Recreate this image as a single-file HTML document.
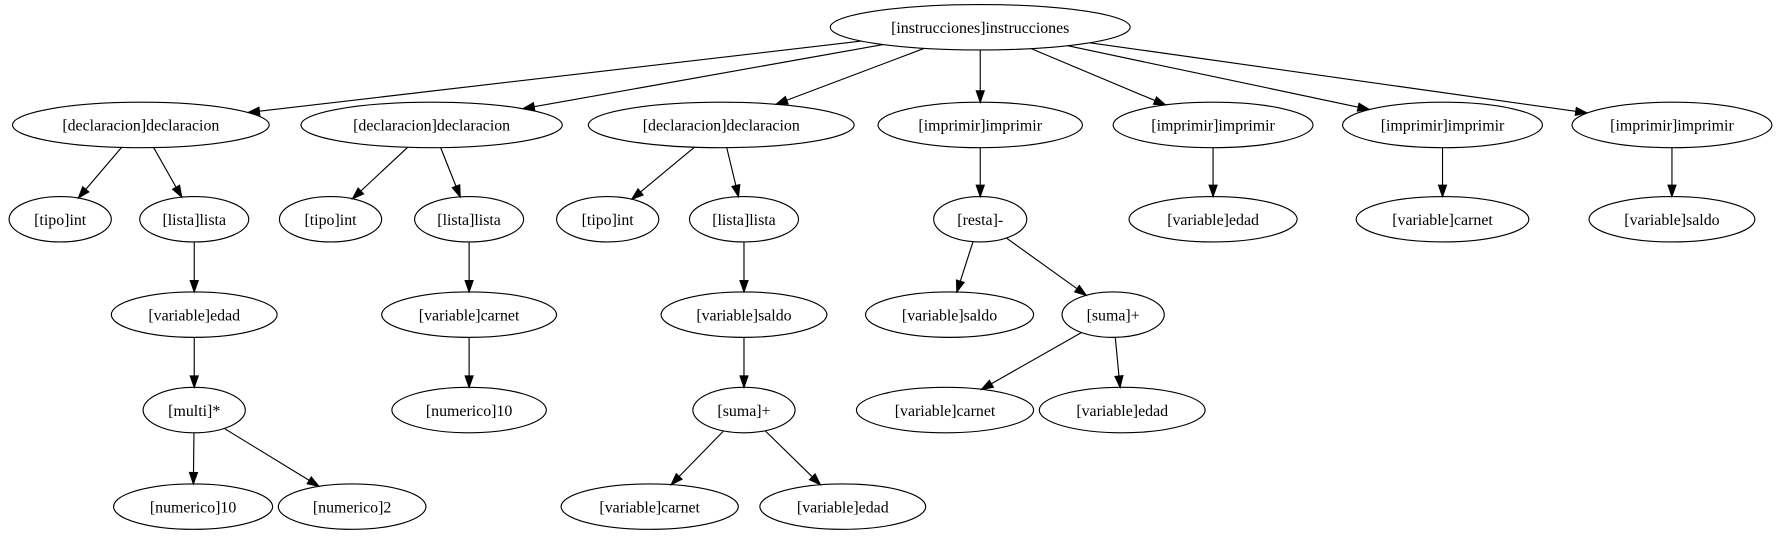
<!DOCTYPE html>
<html><head><meta charset="utf-8"><style>html,body{margin:0;padding:0;background:#fff}svg{display:block}text{font-family:"Liberation Serif","Times New Roman",serif;font-size:14px}</style></head>
<body>
<svg id="s" width="1781" height="539" viewBox="0 0 1568 474.5" preserveAspectRatio="none" xmlns="http://www.w3.org/2000/svg">
<g id="nodes" fill="none" stroke="#000" stroke-width="1"></g>
<g id="edges" stroke="#000" stroke-width="1"></g>
<g id="labels" text-anchor="middle" fill="#000">
<text x="863" y="29">[instrucciones]instrucciones</text>
<text x="124" y="115">[declaracion]declaracion</text>
<text x="380" y="115">[declaracion]declaracion</text>
<text x="635" y="115">[declaracion]declaracion</text>
<text x="863" y="115">[imprimir]imprimir</text>
<text x="1068" y="115">[imprimir]imprimir</text>
<text x="1270" y="115">[imprimir]imprimir</text>
<text x="1472" y="115">[imprimir]imprimir</text>
<text x="53" y="198">[tipo]int</text>
<text x="171" y="198">[lista]lista</text>
<text x="291" y="198">[tipo]int</text>
<text x="413" y="198">[lista]lista</text>
<text x="535" y="198">[tipo]int</text>
<text x="655" y="198">[lista]lista</text>
<text x="863" y="198">[resta]-</text>
<text x="1068" y="198">[variable]edad</text>
<text x="1270" y="198">[variable]carnet</text>
<text x="1472" y="198">[variable]saldo</text>
<text x="171" y="282">[variable]edad</text>
<text x="413" y="282">[variable]carnet</text>
<text x="655" y="282">[variable]saldo</text>
<text x="836" y="282">[variable]saldo</text>
<text x="980" y="282">[suma]+</text>
<text x="171" y="366">[multi]*</text>
<text x="413" y="366">[numerico]10</text>
<text x="655" y="366">[suma]+</text>
<text x="832" y="366">[variable]carnet</text>
<text x="988" y="366">[variable]edad</text>
<text x="170" y="451">[numerico]10</text>
<text x="310" y="451">[numerico]2</text>
<text x="572" y="451">[variable]carnet</text>
<text x="742" y="451">[variable]edad</text>
</g>
</svg>
<script>
var N={
r:[863,24,132],d1:[124,110,113],d2:[380,110,115],d3:[635,110,117],i1:[863,110,90],i2:[1068,110,88],i3:[1270,110,88],i4:[1472,110,88],
t1:[53,193,45],l1:[171,193,48],t2:[291,193,45],l2:[413,193,48],t3:[535,193,45],l3:[655,193,48],re:[863,193,41],v1:[1068,193,74],v2:[1270,193,76],v3:[1472,193,73],
e1:[171,277,73],c1:[413,277,77],s1:[655,277,73],s2:[836,277,74],su:[980,277,45],
m:[171,361,45],n1:[413,361,68],su2:[655,361,45],c2:[832,361,78],e2:[988,361,73],
n2:[170,446,70],n3:[310,446,65],c3:[572,446,78],e3:[742,446,73]};
var E=[["r","d1"],["r","d2"],["r","d3"],["r","i1"],["r","i2"],["r","i3"],["r","i4"],
["d1","t1"],["d1","l1"],["d2","t2"],["d2","l2"],["d3","t3"],["d3","l3"],["i1","re"],["i2","v1"],["i3","v2"],["i4","v3"],
["l1","e1"],["l2","c1"],["l3","s1"],["re","s2"],["re","su"],["e1","m"],["c1","n1"],["s1","su2"],["su","c2"],["su","e2"],
["m","n2"],["m","n3"],["su2","c3"],["su2","e3"]];
var ry=20,ns="http://www.w3.org/2000/svg";
var gn=document.getElementById("nodes"),ge=document.getElementById("edges");
for(var k in N){var n=N[k];var el=document.createElementNS(ns,"ellipse");el.setAttribute("cx",n[0]);el.setAttribute("cy",n[1]);el.setAttribute("rx",n[2]);el.setAttribute("ry",ry);gn.appendChild(el);}
function bnd(n,dx,dy){var t=1/Math.sqrt(dx*dx/(n[2]*n[2])+dy*dy/(ry*ry));return [n[0]+dx*t,n[1]+dy*t];}
E.forEach(function(e){var a=N[e[0]],b=N[e[1]];
var dx=b[0]-a[0],dy=b[1]-a[1];
var p=bnd(a,dx,dy);var q=bnd(b,-dx,-dy);
var L=Math.hypot(q[0]-p[0],q[1]-p[1]);var ux=(q[0]-p[0])/L,uy=(q[1]-p[1])/L;
var h=10,w=3.5;var bx=q[0]-ux*h,by=q[1]-uy*h;
var l=document.createElementNS(ns,"line");l.setAttribute("x1",p[0]);l.setAttribute("y1",p[1]);l.setAttribute("x2",bx);l.setAttribute("y2",by);ge.appendChild(l);
var pg=document.createElementNS(ns,"polygon");pg.setAttribute("points",q[0]+","+q[1]+" "+(bx-uy*w)+","+(by+ux*w)+" "+(bx+uy*w)+","+(by-ux*w));pg.setAttribute("fill","#000");ge.appendChild(pg);});
</script>
</body></html>
